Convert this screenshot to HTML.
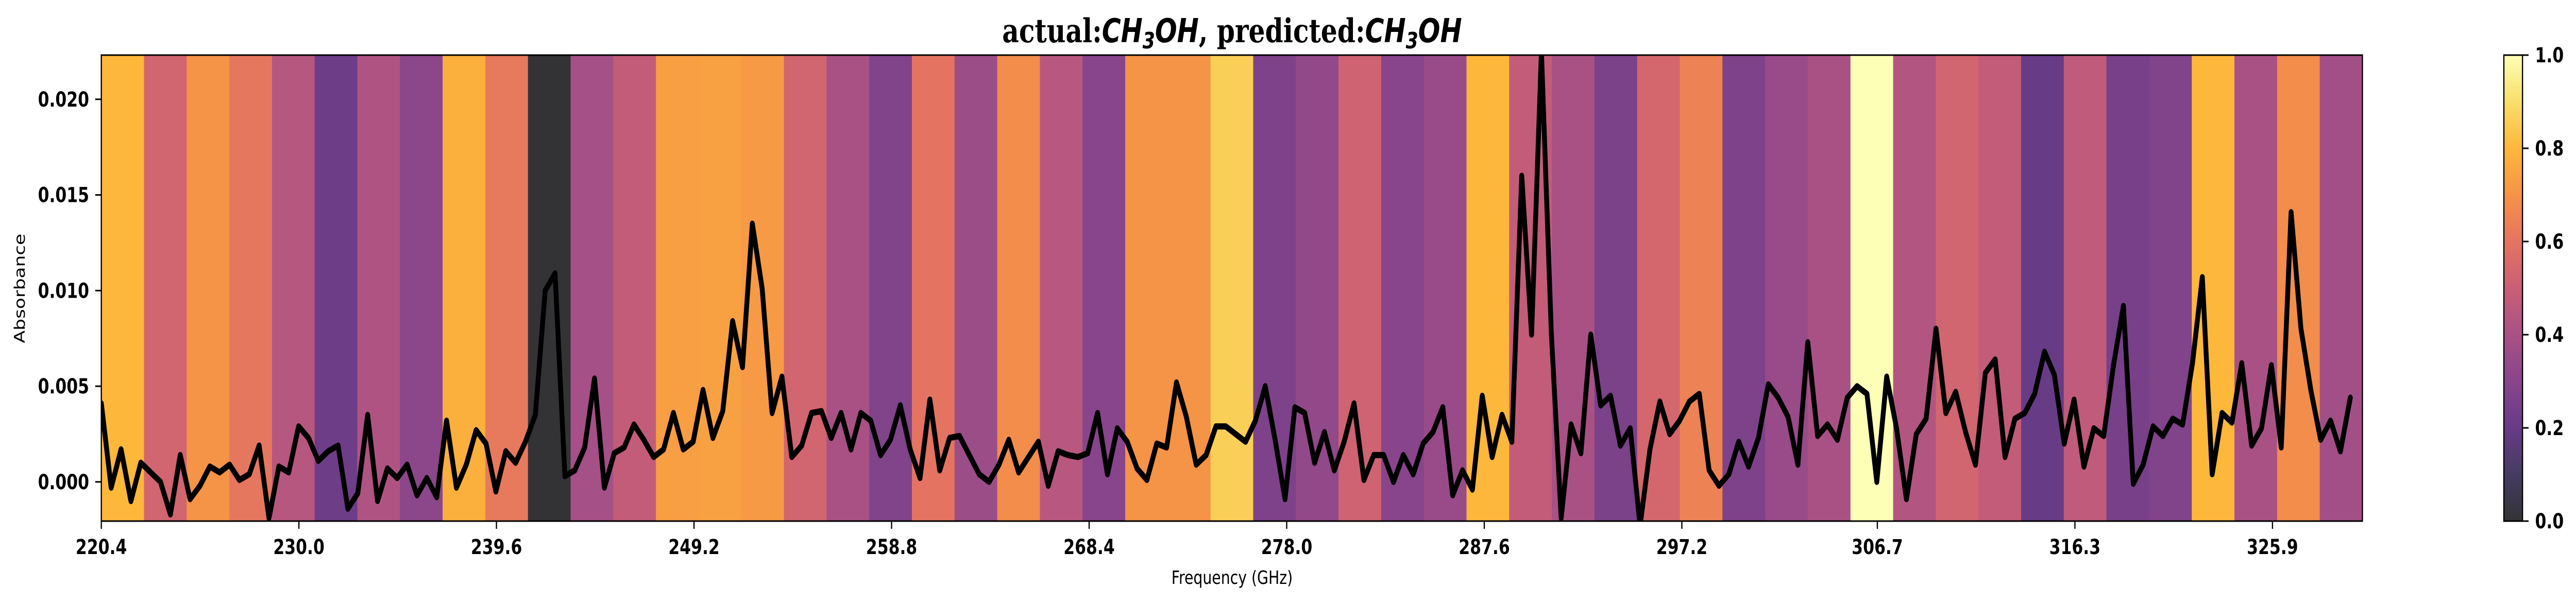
<!DOCTYPE html>
<html><head><meta charset="utf-8"><style>
html,body{margin:0;padding:0;background:#fff;overflow:hidden;width:100vw;height:100vh;}
svg{display:block;width:100vw;height:100vh;}
</style></head><body>
<svg id="chart" xmlns="http://www.w3.org/2000/svg" viewBox="0 0 6356 1173" preserveAspectRatio="none">
<defs>
<clipPath id="plotclip"><rect x="250" y="107" width="5579" height="905"/></clipPath>
<linearGradient id="cbgrad" x1="0" y1="1" x2="0" y2="0"></linearGradient>
</defs>
<g id="bars" clip-path="url(#plotclip)"></g>
<g id="series" clip-path="url(#plotclip)"></g>
<rect x="250" y="107" width="5579" height="905" fill="none" stroke="#000" stroke-width="3"/>
<g id="xticks"></g>
<g id="yticks"></g>
<text x="3040" y="82" text-anchor="middle" font-size="64" font-weight="bold"><tspan font-family="'DejaVu Serif','Liberation Serif',serif">actual:</tspan><tspan font-family="'DejaVu Sans','Liberation Sans',sans-serif" font-style="italic">CH</tspan><tspan font-family="'DejaVu Sans','Liberation Sans',sans-serif" font-style="italic" font-size="44" dy="12">3</tspan><tspan font-family="'DejaVu Sans','Liberation Sans',sans-serif" font-style="italic" dy="-12">OH</tspan><tspan font-family="'DejaVu Serif','Liberation Serif',serif">, predicted:</tspan><tspan font-family="'DejaVu Sans','Liberation Sans',sans-serif" font-style="italic">CH</tspan><tspan font-family="'DejaVu Sans','Liberation Sans',sans-serif" font-style="italic" font-size="44" dy="12">3</tspan><tspan font-family="'DejaVu Sans','Liberation Sans',sans-serif" font-style="italic" dy="-12">OH</tspan></text>
<text x="3040" y="1134" text-anchor="middle" font-family="'DejaVu Sans','Liberation Sans',sans-serif" font-size="36">Frequency (GHz)</text>
<text transform="translate(61,560) rotate(-90)" text-anchor="middle" font-family="'DejaVu Sans','Liberation Sans',sans-serif" font-size="36">Absorbance</text>
<g id="colorbar"></g>
</svg>
<script>
const xTickLabels = ["220.4","230.0","239.6","249.2","258.8","268.4","278.0","287.6","297.2","306.7","316.3","325.9"];
const xTickValues = [220.4,230.0,239.6,249.2,258.8,268.4,278.0,287.6,297.2,306.7,316.3,325.9];
const yTickValues = [0.000,0.005,0.010,0.015,0.020];
const yTickLabels = ["0.000","0.005","0.010","0.015","0.020"];
const cbTickValues = [0.0,0.2,0.4,0.6,0.8,1.0];
const cbTickLabels = ["0.0","0.2","0.4","0.6","0.8","1.0"];
const freqStart = 220.4;
const freqStep = 0.4793;
const absorbance = [4.1,-0.3,1.7,-1.0,1.0,0.5,0.0,-1.7,1.4,-0.9,-0.2,0.8,0.5,0.9,0.1,0.4,1.9,-1.9,0.8,0.5,2.9,2.3,1.1,1.6,1.9,-1.4,-0.6,3.5,-1.0,0.7,0.2,0.9,-0.7,0.2,-0.8,3.2,-0.3,0.9,2.7,2.0,-0.5,1.6,1.0,2.1,3.5,10.0,10.9,0.3,0.6,1.8,5.4,-0.3,1.5,1.8,3.0,2.2,
1.3,1.7,3.6,1.7,2.1,4.8,2.3,3.7,8.4,6.0,13.5,10.1,3.6,5.5,1.3,1.9,3.6,3.7,2.3,3.6,1.7,3.6,3.2,1.4,2.2,4.0,1.7,0.2,4.3,0.6,2.3,
2.4,1.4,0.4,0.0,0.9,2.2,0.5,1.3,2.1,-0.2,1.6,1.4,1.3,1.5,3.6,0.4,2.8,2.1,0.7,0.1,2.0,1.8,5.2,3.4,0.9,1.4,2.9,2.9,2.5,2.1,3.2,5.0,
2.2,-0.9,3.9,3.6,1.0,2.6,0.6,2.1,4.1,0.1,1.4,1.4,0.0,1.4,0.4,2.0,2.6,3.9,-0.7,0.6,-0.4,4.5,1.3,3.5,2.1,16.0,7.7,22.5,7.8,-1.9,3.0,1.5,
7.7,4.0,4.5,1.9,2.8,-2.3,1.7,4.2,2.5,3.2,4.2,4.6,0.6,-0.2,0.4,2.1,0.8,2.3,5.1,4.4,3.4,0.9,7.3,2.4,3.0,2.2,4.4,5.0,4.6,0.0,5.5,2.8,
-0.9,2.5,3.3,8.0,3.6,4.7,2.6,0.9,5.7,6.4,1.3,3.3,3.6,4.6,6.8,5.6,2.0,4.3,0.8,2.8,2.4,6.1,9.2,-0.1,0.9,2.9,2.4,3.3,3.0,6.2,10.7,0.4,
3.6,3.1,6.2,1.9,2.8,6.1,1.8,14.1,8.0,4.8,2.2,3.2,1.6,4.4];
const barWeights = [0.80,0.53,0.70,0.61,0.44,0.22,0.42,0.31,0.78,0.62,0.00,0.39,0.48,0.73,0.74,0.72,0.53,0.40,0.28,0.60,0.36,0.68,0.45,0.30,0.70,0.70,0.86,0.27,0.33,0.52,0.30,0.35,0.80,0.48,0.40,0.26,0.54,0.65,0.27,0.35,0.40,1.00,0.43,0.53,0.48,0.20,0.47,0.25,0.28,0.80,0.40,0.68,0.38];

const NS = "http://www.w3.org/2000/svg";
const PL = 250, PR = 5829, PT = 107, PB = 1012;
const xMin = 220.4, xMax = 330.27, yMin = -0.00205, yMax = 0.02231;
function xs(v){ return PL + (v - xMin) / (xMax - xMin) * (PR - PL); }
function ys(v){ return PB - (v - yMin) / (yMax - yMin) * (PB - PT); }
const infernoStops = [[0,0,4],[22,11,57],[66,10,104],[106,23,110],[147,38,103],[188,55,84],[221,81,58],[243,120,25],[252,165,10],[246,215,70],[252,255,164]];
function cmap(t){
  t = Math.max(0, Math.min(1, t));
  const p = t * 10, i = Math.min(9, Math.floor(p)), f = p - i;
  const a = infernoStops[i], b = infernoStops[i+1];
  const c = [0,1,2].map(k => Math.round((a[k] + (b[k]-a[k]) * f) * 0.8 + 255 * 0.2));
  return "rgb(" + c.join(",") + ")";
}
function mk(tag, attrs, parent){ const e = document.createElementNS(NS, tag); for (const k in attrs) e.setAttribute(k, attrs[k]); parent.appendChild(e); return e; }

const barsG = document.getElementById("bars");
const bw = (xMax - xMin) / barWeights.length;
barWeights.forEach((w, i) => {
  const x0 = xs(xMin + i * bw), x1 = xs(xMin + (i + 1) * bw);
  const r = mk("rect", {x: x0, y: PT, width: x1 - x0 + 0.6, height: PB - PT, fill: cmap(w)}, barsG);
  
  
});

const pts = absorbance.map((v, i) => xs(freqStart + i * freqStep).toFixed(1) + "," + ys(v / 1000).toFixed(1)).join(" ");
const line = mk("polyline", {points: pts, fill: "none", stroke: "#000", "stroke-width": 12, "stroke-linejoin": "round", "stroke-linecap": "round"}, document.getElementById("series"));



const xg = document.getElementById("xticks");
xTickValues.forEach((v, i) => {
  const x = xs(v);
  const t = mk("line", {x1: x, x2: x, y1: PB, y2: PB + 15, stroke: "#000", "stroke-width": 3}, xg);
  
  
  const l = mk("text", {x: x, y: 1076, "text-anchor": "middle", "font-family": "'DejaVu Sans','Liberation Sans',sans-serif", "font-weight": "bold", "font-size": 40}, xg);
  l.textContent = xTickLabels[i];
  
  
});

const yg = document.getElementById("yticks");
yTickValues.forEach((v, i) => {
  const y = ys(v);
  const t = mk("line", {x1: PL - 15, x2: PL, y1: y, y2: y, stroke: "#000", "stroke-width": 3}, yg);
  
  
  const l = mk("text", {x: 220, y: y + 14, "text-anchor": "end", "font-family": "'DejaVu Sans','Liberation Sans',sans-serif", "font-weight": "bold", "font-size": 40}, yg);
  l.textContent = yTickLabels[i];
  
  
});

const grad = document.getElementById("cbgrad");
for (let k = 0; k <= 20; k++) {
  mk("stop", {offset: (k / 20), "stop-color": cmap(k / 20)}, grad);
}
const cg = document.getElementById("colorbar");
const CBL = 6178, CBR = 6224;
const cbr = mk("rect", {x: CBL, y: PT, width: CBR - CBL, height: PB - PT, fill: "url(#cbgrad)", stroke: "#000", "stroke-width": 3}, cg);


cbTickValues.forEach((v, i) => {
  const y = PB - v * (PB - PT);
  const t = mk("line", {x1: CBR, x2: CBR + 15, y1: y, y2: y, stroke: "#000", "stroke-width": 3}, cg);
  
  
  const l = mk("text", {x: 6255, y: y + 14, "font-family": "'DejaVu Sans','Liberation Sans',sans-serif", "font-weight": "bold", "font-size": 40}, cg);
  l.textContent = cbTickLabels[i];
  
  
});
</script>
</body></html>
